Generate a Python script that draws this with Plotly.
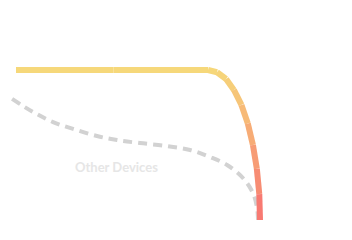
import plotly.graph_objects as go

# Main series (yellow -> red gradient curve)
main_x = [0, 40, 78.7, 82.4, 86.1, 89.3, 92.4, 95.0, 97.1, 98.7, 99.7, 100]
main_y = [100, 100, 100, 98.5, 94, 86.7, 76.7, 64.3, 50, 34.2, 17.3, 0]

# Other devices (dashed gray curve)
other_x = [-1.6, 7.0, 15.2, 23.4, 33.2, 41.4, 50.8, 61.9, 71.3, 79.5, 86.5, 93.0, 97.1, 98.8, 99.2]
other_y = [80.7, 72, 65.3, 60.7, 56, 53.3, 51.3, 49.3, 46.7, 42, 36.7, 28, 18, 8, 0]

label_text = "Other Devices"
label_x = 41
label_y = 35.3

TOP = (246, 216, 122)
BOT = (248, 113, 113)


def mix(t):
    return "rgb(%d,%d,%d)" % tuple(round(a + (b - a) * t) for a, b in zip(TOP, BOT))


fig = go.Figure()

fig.add_trace(go.Scatter(
    x=other_x, y=other_y, mode="lines", line_shape="spline",
    line=dict(color="#d2d2d2", width=4, dash="9px,6px"),
    hoverinfo="skip", showlegend=False,
))

for i in range(len(main_x) - 1):
    ym = (main_y[i] + main_y[i + 1]) / 2
    t = (100 - ym) / 100
    fig.add_trace(go.Scatter(
        x=main_x[i:i + 2], y=main_y[i:i + 2], mode="lines",
        line=dict(color=mix(t), width=6),
        hoverinfo="skip", showlegend=False,
    ))

fig.add_annotation(
    x=label_x, y=label_y, text="<b>" + label_text + "</b>", showarrow=False,
    font=dict(family="Lato", size=13, color="#e6e6e6"),
)

fig.update_layout(
    width=352, height=240,
    margin=dict(l=0, r=0, t=0, b=0),
    paper_bgcolor="white", plot_bgcolor="white",
    xaxis=dict(range=[-6.557, 137.7], visible=False, fixedrange=True),
    yaxis=dict(range=[-13.33, 146.67], visible=False, fixedrange=True),
)

fig.write_html("out.html", config={"displayModeBar": False})
